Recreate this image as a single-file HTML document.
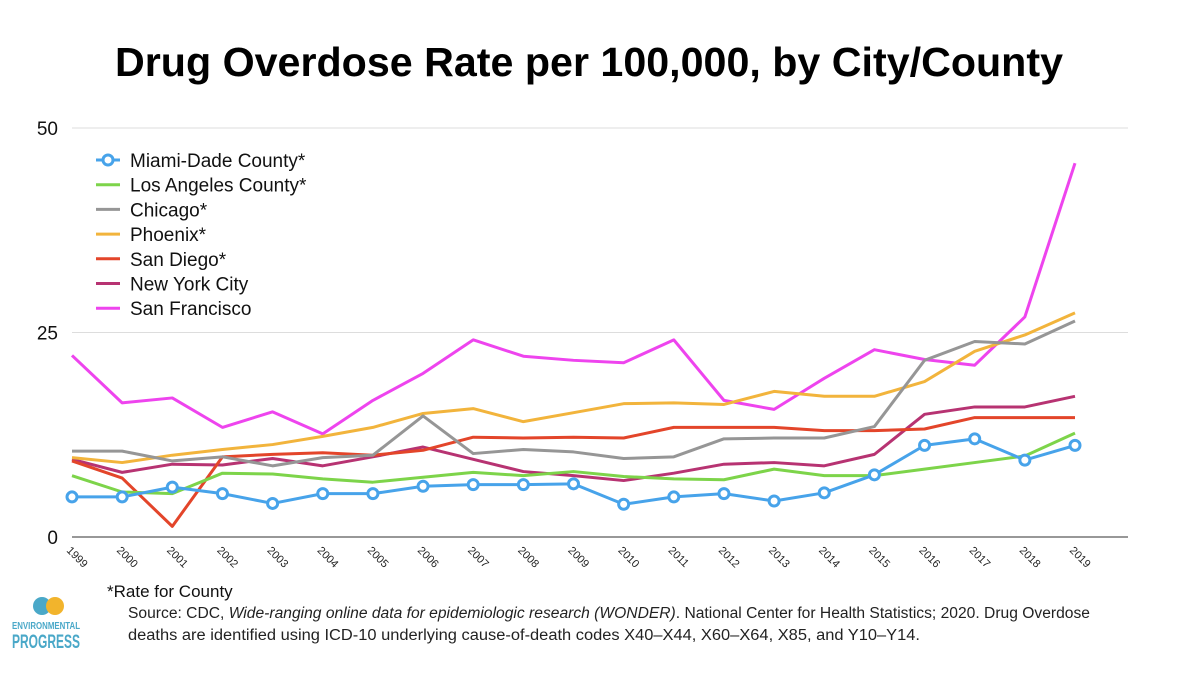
<!DOCTYPE html>
<html><head><meta charset="utf-8"><style>
body{margin:0;background:#fff;width:1200px;height:668px;overflow:hidden;font-family:"Liberation Sans",sans-serif}
</style></head><body>
<svg width="1200" height="668" viewBox="0 0 1200 668" xmlns="http://www.w3.org/2000/svg">
<text x="115" y="76" font-size="41" font-weight="bold" fill="#000" textLength="948" lengthAdjust="spacingAndGlyphs">Drug Overdose Rate per 100,000, by City/County</text>
<g id="grid"></g><g id="series"></g><g id="legend"></g><g id="xt"></g>
<text x="107" y="597" font-size="17" fill="#111">*Rate for County</text>
<text x="128" y="618" font-size="15.5" fill="#222" textLength="962" lengthAdjust="spacingAndGlyphs">Source: CDC, <tspan font-style="italic">Wide-ranging online data for epidemiologic research (WONDER)</tspan>. National Center for Health Statistics; 2020. Drug Overdose</text>
<text x="128" y="640" font-size="15.5" fill="#222" textLength="792" lengthAdjust="spacingAndGlyphs">deaths are identified using ICD-10 underlying cause-of-death codes X40–X44, X60–X64, X85, and Y10–Y14.</text>
<g>
<circle cx="42" cy="606" r="9" fill="#4aa8c8"/><circle cx="55" cy="606" r="9" fill="#f2b42c"/>
<text x="12" y="629" font-size="10" font-weight="bold" fill="#4aa8c8" textLength="68" lengthAdjust="spacingAndGlyphs">ENVIRONMENTAL</text>
<text x="12" y="648" font-size="19" font-weight="bold" fill="#4aa8c8" textLength="68" lengthAdjust="spacingAndGlyphs">PROGRESS</text>
</g>
</svg>
<script>
const years=["1999","2000","2001","2002","2003","2004","2005","2006","2007","2008","2009","2010","2011","2012","2013","2014","2015","2016","2017","2018","2019"];
const yTicks=[0,25,50];
const miami=[4.9,4.9,6.1,5.3,4.1,5.3,5.3,6.2,6.4,6.4,6.5,4.0,4.9,5.3,4.4,5.4,7.6,11.2,12.0,9.4,11.2];
const la=[7.5,5.5,5.3,7.8,7.7,7.1,6.7,7.3,7.9,7.5,8.0,7.4,7.1,7.0,8.3,7.5,7.5,8.3,9.1,9.9,12.7];
const chicago=[10.5,10.5,9.3,9.8,8.7,9.7,10.0,14.8,10.2,10.7,10.4,9.6,9.8,12.0,12.1,12.1,13.5,21.6,23.9,23.6,26.4];
const phoenix=[9.7,9.1,10.0,10.7,11.3,12.3,13.4,15.1,15.7,14.1,15.2,16.3,16.4,16.2,17.8,17.2,17.2,19.0,22.7,24.7,27.4];
const sandiego=[9.3,7.2,1.3,9.8,10.1,10.3,10.0,10.6,12.2,12.1,12.2,12.1,13.4,13.4,13.4,13.0,13.0,13.2,14.6,14.6,14.6];
const nyc=[9.5,7.9,8.9,8.8,9.6,8.7,9.8,11.0,9.5,8.0,7.5,6.9,7.8,8.9,9.1,8.7,10.1,15.0,15.9,15.9,17.2];
const sf=[22.2,16.4,17.0,13.4,15.3,12.6,16.7,20.0,24.1,22.1,21.6,21.3,24.1,16.7,15.6,19.4,22.9,21.7,21.0,26.9,45.7];
const names=["Miami-Dade County*","Los Angeles County*","Chicago*","Phoenix*","San Diego*","New York City","San Francisco"];
const NS="http://www.w3.org/2000/svg";
const X0=72,XS=50.15,Y0=537,YP=409/50;
const xp=i=>X0+i*XS, yp=v=>Y0-v*YP;
function mk(t,a,p){const e=document.createElementNS(NS,t);for(const k in a)e.setAttribute(k,a[k]);p.appendChild(e);return e;}
const grid=document.getElementById('grid');
yTicks.forEach(t=>{
 const l=mk('line',{x1:72,x2:1128,y1:yp(t),y2:yp(t),stroke:t==0?'#777':'#ddd','stroke-width':t==0?1.5:1},grid);
 
 
 const tx=mk('text',{x:58,y:yp(t)+7,'text-anchor':'end','font-size':19,fill:'#111'},grid);tx.textContent=t;
 
 
});
const xt=document.getElementById('xt');
years.forEach((y,i)=>{
 const t=mk('text',{x:xp(i)-6,y:551,'font-size':11,fill:'#222',transform:`rotate(45 ${xp(i)-6} 551)`},xt);t.textContent=y;
 
 
});
const series=[[miami,'#47a3ea'],[la,'#7dd44a'],[chicago,'#969696'],[phoenix,'#f2b43c'],[sandiego,'#e3452a'],[nyc,'#b73372'],[sf,'#ee44ee']];
const sg=document.getElementById('series');
for(let s=series.length-1;s>=0;s--){
 const [d,c]=series[s];
 const p=mk('polyline',{points:d.map((v,i)=>xp(i)+','+yp(v)).join(' '),fill:'none',stroke:c,'stroke-width':3,'stroke-linejoin':'round'},sg);
 
 
 if(s==0)d.forEach((v,i)=>{const m=mk('circle',{cx:xp(i),cy:yp(v),r:5,fill:'#fff',stroke:c,'stroke-width':3},sg);
  
  });
}
const lg=document.getElementById('legend');
names.forEach((n,i)=>{
 const y=160+i*24.7,c=series[i][1];
 const g=mk('g',{},lg);
 
 
 mk('line',{x1:96,x2:120,y1:y,y2:y,stroke:c,'stroke-width':3},g);
 if(i==0)mk('circle',{cx:108,cy:y,r:5,fill:'#fff',stroke:c,'stroke-width':3},g);
 const t=mk('text',{x:130,y:y+7,'font-size':19,fill:'#111'},g);t.textContent=n;
});
</script>
</body></html>
